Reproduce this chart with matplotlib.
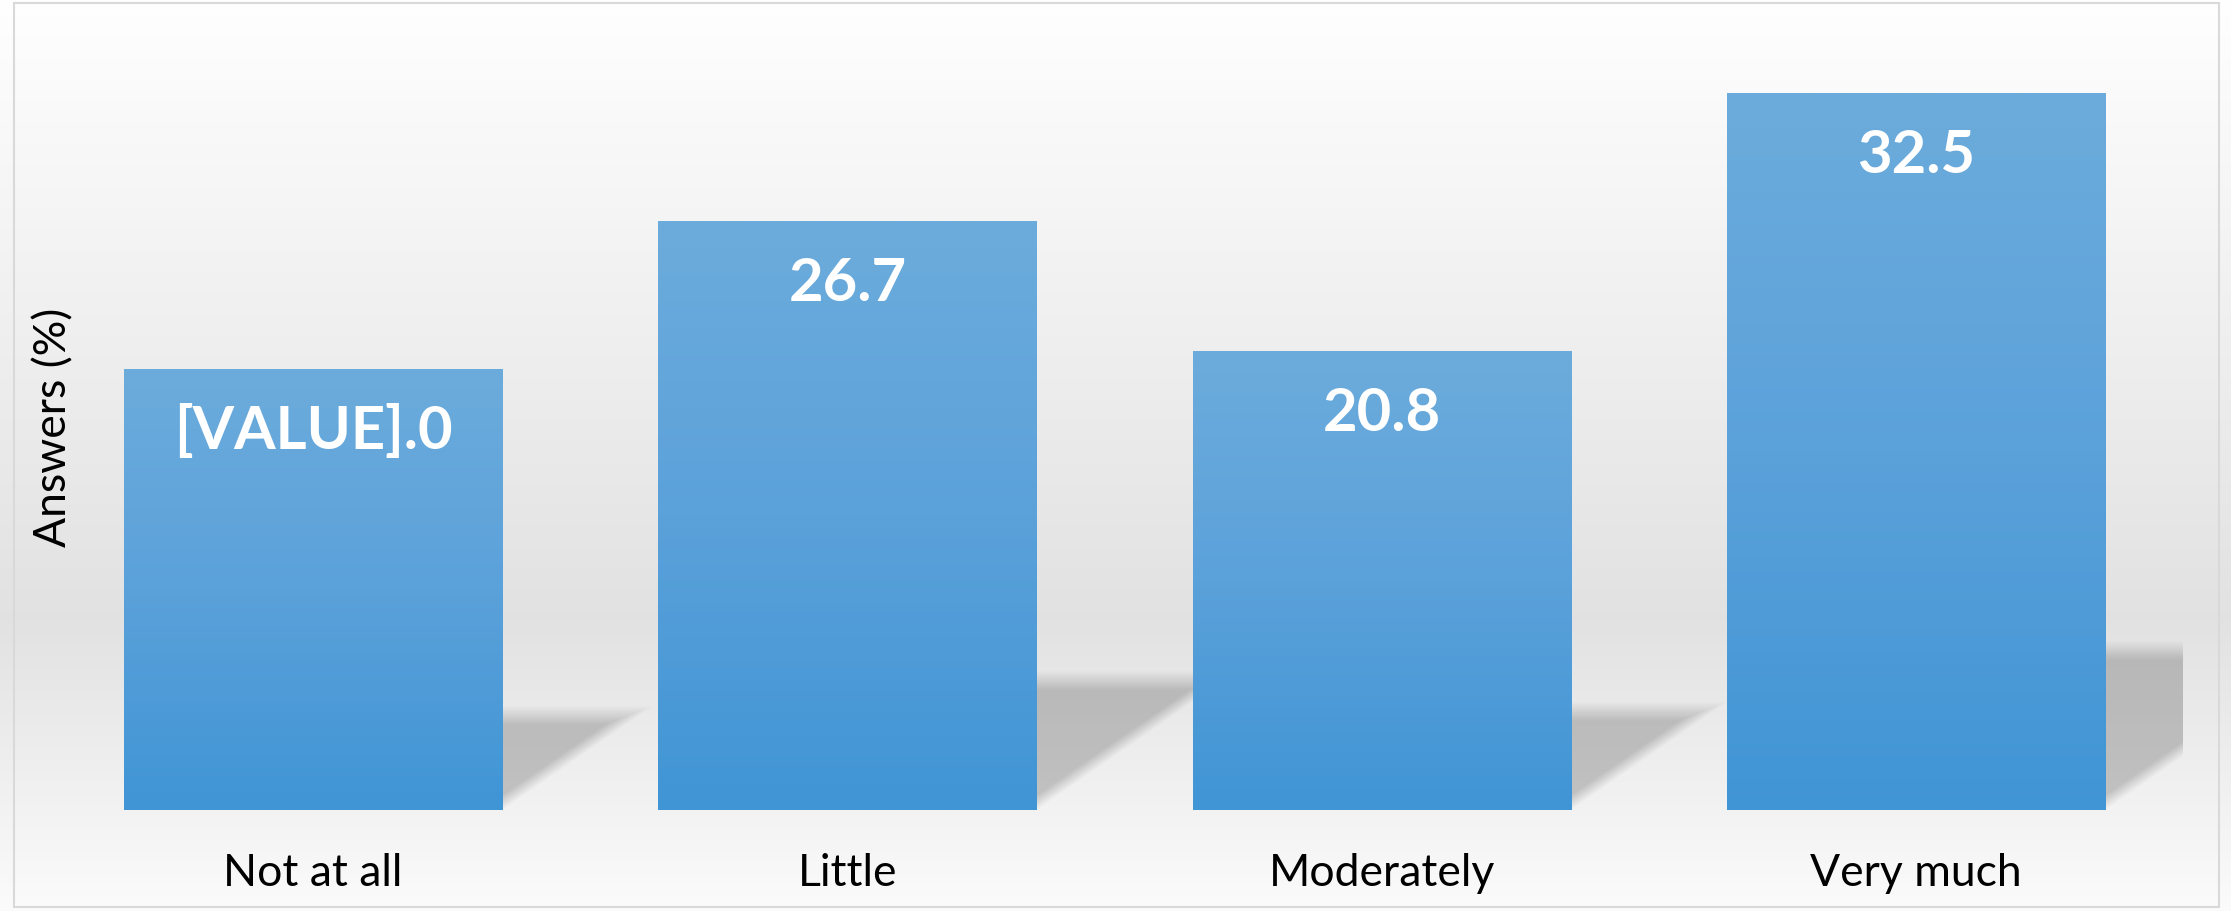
import numpy as np
import matplotlib
matplotlib.use("Agg")
import matplotlib.pyplot as plt
from matplotlib.patches import Polygon, Rectangle
from matplotlib.colors import LinearSegmentedColormap

categories = ["Not at all", "Little", "Moderately", "Very much"]
values = [20.0, 26.7, 20.8, 32.5]
value_labels = ["[VALUE].0", "26.7", "20.8", "32.5"]
y_label = "Answers (%)"

W, H, DPI = 2231, 912, 100
fig = plt.figure(figsize=(W / DPI, H / DPI), dpi=DPI)
FONT = ["Lato", "DejaVu Sans"]

# background gradient (chart area)
bg = fig.add_axes([0, 0, 1, 1], zorder=0)
bg.set_axis_off()
stops = [(0.0, 0.999), (0.68, 0.885), (1.0, 0.985)]
t = np.linspace(0, 1, 400)
g = np.interp(t, [s[0] for s in stops], [s[1] for s in stops])
img = np.dstack([g, g, g]).reshape(400, 1, 3)
bg.imshow(img, aspect="auto", extent=(0, 1, 0, 1), origin="upper")
bg.set_xlim(0, 1)
bg.set_ylim(0, 1)
bg.add_patch(Rectangle((14 / W, 4 / H), (2219 - 14) / W, (908 - 4) / H,
                       fill=False, edgecolor="#d9d9d9", linewidth=1.5,
                       transform=bg.transAxes))

# main axes
ax = fig.add_axes([46 / W, (H - 811) / H, (2183 - 46) / W, (811 - 39) / H], zorder=1)
ax.patch.set_alpha(0)
ax.set_xlim(-0.5, 3.5)
ax.set_ylim(0, 35)
for s in ax.spines.values():
    s.set_visible(False)
ax.set_yticks([])
ax.set_xticks(range(len(categories)))
ax.set_xticklabels(categories, fontsize=32, family=FONT, color="#000000")
ax.tick_params(axis="x", length=0, pad=30)

bw = 0.708
x = np.arange(len(categories))

# perspective shadows (soft, layered)
n_layers = 12
for xi, h in zip(x, values):
    hs = 0.235 * h
    dx = 0.014 * h
    x0, x1 = xi - bw / 2, xi + bw / 2
    for k in range(n_layers):
        hk = hs - k * 0.075
        dk = dx * hk / hs
        ek = k * 0.0035
        poly = Polygon([(x0, 0), (x1 - ek, 0), (x1 + dk - ek, hk), (x0 + dk, hk)],
                       closed=True, facecolor="black", edgecolor="none",
                       alpha=0.016, zorder=1)
        ax.add_patch(poly)

# bars with vertical gradient
cmap = LinearSegmentedColormap.from_list("bar", ["#4095d5", "#5ba1da", "#6cacdc"])
grad = np.linspace(0, 1, 256).reshape(-1, 1)
bars = ax.bar(x, values, width=bw, color="#559fd9", zorder=2, linewidth=0)
for b in bars:
    im = ax.imshow(grad, cmap=cmap, aspect="auto", origin="lower",
                   extent=(b.get_x(), b.get_x() + b.get_width(), 0, b.get_height()),
                   zorder=3)
    im.set_clip_path(b)
ax.set_xlim(-0.5, 3.5)
ax.set_ylim(0, 35)

for xi, h, lab in zip(x, values, value_labels):
    ax.annotate(lab, (xi, h), xytext=(0, -62), textcoords="offset pixels",
                ha="center", va="center", fontsize=43, fontweight="bold",
                family=FONT, color="white", zorder=5)

fig.text(54 / W, (H - 427) / H, y_label, rotation=90, ha="center", va="center",
         fontsize=32, family=FONT, color="#000000", zorder=5)

fig.savefig("out.png", dpi=DPI)
